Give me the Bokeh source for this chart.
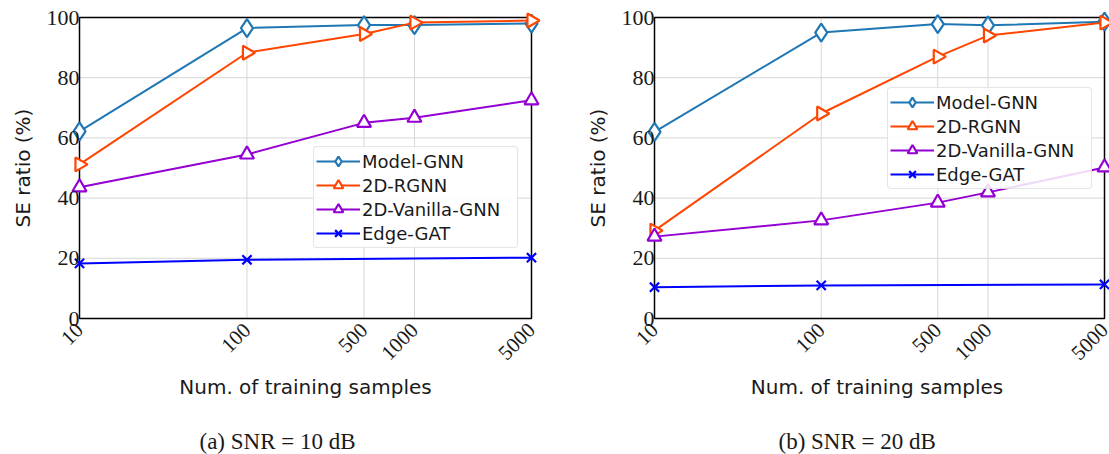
import math
from bokeh.plotting import figure
from bokeh.layouts import row
from bokeh.models import FixedTicker, Legend, LegendItem, Title
from bokeh.embed import file_html
from bokeh.resources import INLINE

# ---------------- data ----------------
x_samples = [10, 100, 500, 1000, 5000]
x_tick_labels = {10: "10", 100: "100", 500: "500", 1000: "1000", 5000: "5000"}
y_ticks = [0, 20, 40, 60, 80, 100]
x_gat = [10, 100, 5000]

# (a) SNR = 10 dB
a_model_gnn = [62.2, 96.5, 97.5, 97.5, 98.0]
a_rgnn = [51.2, 88.3, 94.5, 98.3, 99.0]
a_vanilla = [43.6, 54.5, 65.0, 66.7, 72.5]
a_edge_gat = [18.3, 19.5, 20.2]

# (b) SNR = 20 dB
b_model_gnn = [62.0, 95.0, 97.8, 97.4, 98.6]
b_rgnn = [29.2, 68.1, 87.0, 94.0, 98.3]
b_vanilla = [27.2, 32.6, 38.5, 41.9, 50.2]
b_edge_gat = [10.4, 11.0, 11.3]

series_names = ["Model-GNN", "2D-RGNN", "2D-Vanilla-GNN", "Edge-GAT"]
colors = ["#1f77b4", "#ff4500", "#9400d3", "#0000ff"]
captions = ["(a)  SNR = 10 dB", "(b)  SNR = 20 dB"]
y_label = "SE ratio (%)"
x_label = "Num. of training samples"

SERIF = "Liberation Serif"
SANS = "DejaVu Sans"
TXT = "#1a1a1a"


def make_panel(data, caption, width, box_left, box_w, pad_l, pad_r,
               legend_xy, cap_offset):
    box_h = 301
    pad_v = 10
    # extend the ranges a little so markers on the box edge are not clipped
    lx0, lx1 = math.log10(x_samples[0]), math.log10(x_samples[-1])
    dpp = (lx1 - lx0) / box_w
    xr = (10 ** (lx0 - pad_l * dpp), 10 ** (lx1 + pad_r * dpp))
    ypp = (y_ticks[-1] - y_ticks[0]) / box_h
    yr = (y_ticks[0] - pad_v * ypp, y_ticks[-1] + pad_v * ypp)

    frame_left = box_left - pad_l
    frame_w = box_w + pad_l + pad_r
    p = figure(width=width, height=454, x_axis_type="log",
               x_range=xr, y_range=yr,
               output_backend="svg", toolbar_location=None,
               min_border_left=frame_left,
               min_border_right=width - frame_left - frame_w,
               min_border_top=17 - pad_v, min_border_bottom=136 - pad_v)
    p.frame_width = frame_w
    p.frame_height = box_h + 2 * pad_v
    p.outline_line_color = None
    p.background_fill_color = "white"
    p.border_fill_color = "white"

    # axes (labels pulled in toward the box with negative standoffs)
    p.xaxis.ticker = FixedTicker(ticks=x_samples)
    p.xaxis.major_label_overrides = {k: v for k, v in x_tick_labels.items()}
    p.xaxis.major_label_orientation = math.pi / 4
    p.yaxis.ticker = FixedTicker(ticks=y_ticks)
    for ax in (p.xaxis[0], p.yaxis[0]):
        ax.major_label_text_font = SERIF
        ax.major_label_text_color = TXT
        ax.axis_label_text_font = SANS
        ax.axis_label_text_font_size = "20px"
        ax.axis_label_text_font_style = "normal"
        ax.axis_label_text_color = TXT
        ax.major_tick_line_color = None
        ax.minor_tick_line_color = None
        ax.major_tick_out = 0
        ax.major_tick_in = 0
        ax.minor_tick_out = 0
        ax.minor_tick_in = 0
        ax.axis_line_color = None
    p.xaxis.major_label_text_font_size = "21px"
    p.yaxis.major_label_text_font_size = "22px"
    p.xaxis.major_label_standoff = -2
    p.yaxis.major_label_standoff = -10
    p.xaxis.axis_label = x_label
    p.yaxis.axis_label = y_label
    p.xaxis.axis_label_standoff = 6
    p.yaxis.axis_label_standoff = 9

    # grid and box drawn in data space (so they stop at the box)
    p.grid.grid_line_color = None
    inner_x = x_samples[1:-1]
    inner_y = y_ticks[1:-1]
    p.segment(x0=inner_x, x1=inner_x, y0=[y_ticks[0]] * len(inner_x),
              y1=[y_ticks[-1]] * len(inner_x), line_color="#d6d6d6", line_width=1)
    p.segment(x0=[x_samples[0]] * len(inner_y), x1=[x_samples[-1]] * len(inner_y),
              y0=inner_y, y1=inner_y, line_color="#d6d6d6", line_width=1)
    p.quad(left=[x_samples[0]], right=[x_samples[-1]], bottom=[y_ticks[0]],
           top=[y_ticks[-1]], fill_color=None, line_color="black", line_width=1.5)

    model, rgnn, vanilla, gat = data
    items = []
    specs = [
        (x_samples, model, "diamond", 0.0, 18),
        (x_samples, rgnn, "triangle", -math.pi / 2, 14),
        (x_samples, vanilla, "triangle", 0.0, 14),
        (x_gat, gat, "x", 0.0, 13),
    ]
    for (xs, ys, marker, ang, size), name, c in zip(specs, series_names, colors):
        ln = p.line(xs, ys, line_color=c, line_width=2)
        sc = p.scatter(xs, ys, marker=marker, angle=ang, size=size,
                       line_color=c, line_width=2.2, fill_color="white")
        items.append(LegendItem(label=name, renderers=[ln, sc]))

    legend = Legend(items=items, location=legend_xy)
    legend.label_text_font = SANS
    legend.label_text_font_size = "18px"
    legend.label_text_color = TXT
    legend.glyph_width = 44
    legend.glyph_height = 24
    legend.label_height = 20
    legend.label_width = 153
    legend.spacing = 0
    legend.padding = 2
    legend.margin = 0
    legend.label_standoff = 2
    legend.border_line_color = "#cccccc"
    legend.border_line_width = 1
    legend.border_radius = 4
    legend.background_fill_alpha = 0.85
    p.add_layout(legend, "center")

    t = Title(text=caption, align="left", offset=cap_offset,
              text_font=SERIF, text_font_size="23px",
              text_font_style="normal", text_color=TXT, standoff=49)
    p.add_layout(t, "below")
    return p


pa = make_panel((a_model_gnn, a_rgnn, a_vanilla, a_edge_gat), captions[0],
                555, 79, 452, 10, 10, (244, 80), 130)
pb = make_panel((b_model_gnn, b_rgnn, b_vanilla, b_edge_gat), captions[1],
                554, 99, 450, 10, 5, (243, 139), 134)

layout = row(pa, pb, spacing=0)
open("out.html", "w").write(file_html(layout, INLINE))
